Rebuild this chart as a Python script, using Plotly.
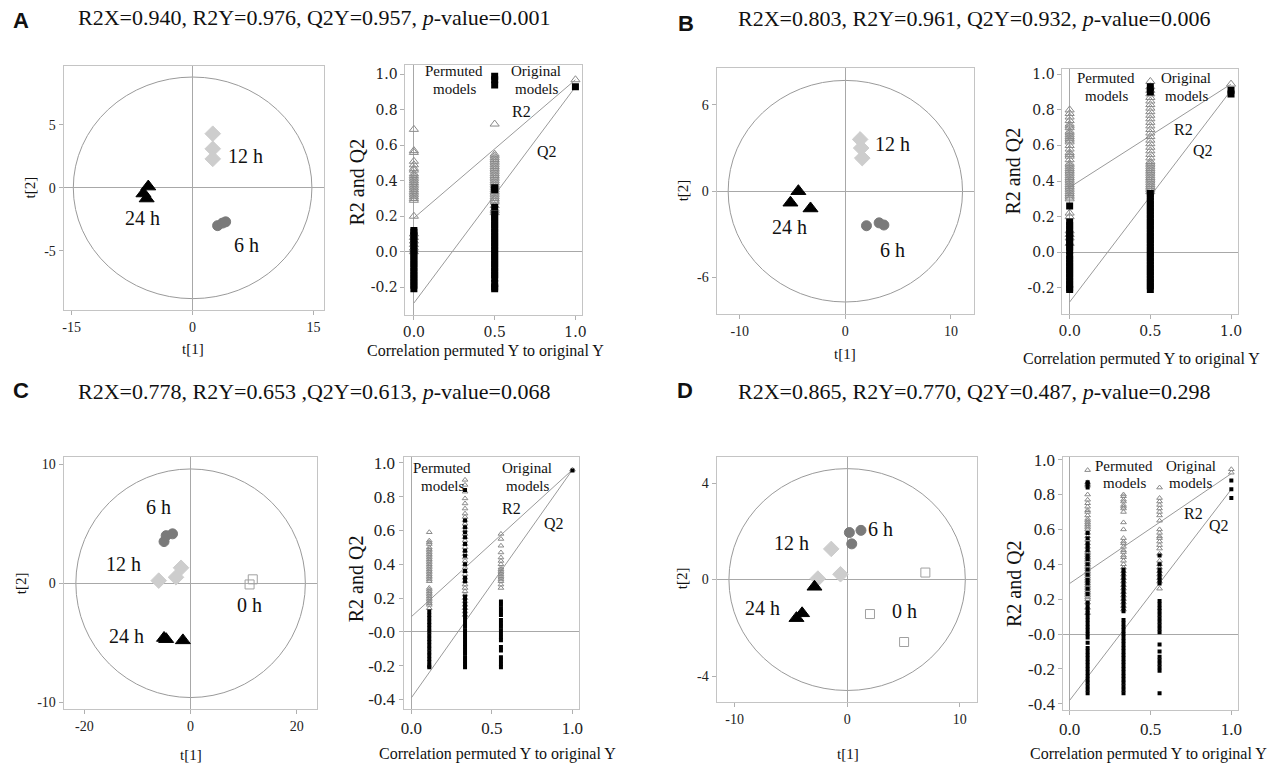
import plotly.graph_objects as go

W, H = 1288, 768
SERIF = "Liberation Serif"

# ---------------- DATA: score plots (t[1], t[2]) ----------------
A_24h_t1 = [-5.5, -6.1, -5.7]; A_24h_t2 = [0.1, -0.45, -0.85]
A_12h_t1 = [2.5, 2.5, 2.5];    A_12h_t2 = [4.3, 3.1, 2.3]
A_6h_t1 = [3.1, 3.7, 4.1];     A_6h_t2 = [-3.0, -2.8, -2.7]

B_24h_t1 = [-4.45, -5.2, -3.3]; B_24h_t2 = [0.0, -0.8, -1.2]
B_12h_t1 = [1.4, 1.5, 1.6];     B_12h_t2 = [3.6, 3.0, 2.3]
B_6h_t1 = [2.0, 3.2, 3.65];     B_6h_t2 = [-2.4, -2.2, -2.35]

C_0h_t1 = [11.1, 11.7];          C_0h_t2 = [-0.1, 0.33]
C_6h_t1 = [-5.0, -4.6, -3.4];    C_6h_t2 = [3.5, 4.0, 4.15]
C_12h_t1 = [-6.0, -2.75, -1.8];  C_12h_t2 = [0.22, 0.5, 1.3]
C_24h_t1 = [-5.0, -4.6, -1.45];  C_24h_t2 = [-4.6, -4.7, -4.8]

D_0h_t1 = [6.95, 2.03, 5.06];    D_0h_t2 = [0.29, -1.43, -2.59]
D_6h_t1 = [0.2, 1.23, 0.41];     D_6h_t2 = [1.95, 2.04, 1.48]
D_12h_t1 = [-1.41, -2.6, -0.59]; D_12h_t2 = [1.27, 0.04, 0.22]
D_24h_t1 = [-2.9, -4.0, -4.5];   D_24h_t2 = [-0.3, -1.4, -1.6]

# Hotelling ellipse semi-axes (t[1], t[2])
A_ellipse = [14.8, 8.8]
B_ellipse = [11.1, 7.7]
C_ellipse = [21.6, 9.6]
D_ellipse = [10.5, 4.6]

# ---------------- DATA: permutation tests ----------------
A_cols = [0.0, 0.5, 1.0]
A_r2 = [
    [0.69, 0.57, 0.56, 0.51, 0.49, 0.47, 0.46, 0.44, 0.43, 0.42, 0.41, 0.40, 0.39, 0.38,
     0.37, 0.36, 0.35, 0.34, 0.33, 0.32, 0.31, 0.30, 0.29, 0.20, 0.10, 0.08, 0.06, 0.04, 0.02, 0.0],
    [0.72, 0.55, 0.54, 0.53, 0.52, 0.51, 0.50, 0.49, 0.48, 0.47, 0.46, 0.45, 0.44, 0.43, 0.42,
     0.41, 0.40, 0.39, 0.38, 0.37, 0.36, 0.35, 0.34, 0.33, 0.32, 0.31, 0.30, 0.29, 0.28, 0.26,
     0.24, 0.23, 0.22],
    [0.97],
]
A_q2 = [
    [0.12, 0.11, 0.09, 0.07, 0.05, 0.03, 0.01, -0.01, -0.03, -0.05, -0.07, -0.09, -0.11,
     -0.13, -0.15, -0.17, -0.19, -0.21],
    [0.99, 0.97, 0.94, 0.36, 0.35, 0.25, 0.21, 0.19, 0.17, 0.15, 0.13, 0.11, 0.09, 0.07, 0.05,
     0.03, 0.01, -0.01, -0.03, -0.05, -0.07, -0.09, -0.11, -0.13, -0.15, -0.18, -0.20, -0.21],
    [0.93],
]
A_r2_line = [0.19, 0.97]
A_q2_line = [-0.29, 0.93]

B_cols = [0.0, 0.5, 1.0]
B_r2 = [
    [0.80, 0.78, 0.76, 0.74, 0.72, 0.71, 0.70, 0.68, 0.67, 0.66, 0.65, 0.64, 0.63, 0.62, 0.60,
     0.58, 0.56, 0.55, 0.54, 0.52, 0.50, 0.49, 0.48, 0.47, 0.46, 0.45, 0.44, 0.43, 0.42, 0.41,
     0.40, 0.39, 0.38, 0.37, 0.36, 0.35, 0.34, 0.33, 0.32, 0.31, 0.30, 0.22, 0.20, 0.12, 0.10,
     0.08, 0.05],
    [0.96, 0.93, 0.91, 0.89, 0.87, 0.85, 0.83, 0.81, 0.79, 0.77, 0.75, 0.73, 0.71, 0.69, 0.67,
     0.65, 0.63, 0.61, 0.59, 0.57, 0.55, 0.53, 0.51, 0.50, 0.49, 0.48, 0.47, 0.46, 0.45, 0.44,
     0.43, 0.42, 0.41, 0.40, 0.39, 0.38, 0.37, 0.36, 0.35, 0.34],
    [0.945],
]
B_q2 = [
    [0.26, 0.17, 0.15, 0.13, 0.11, 0.09, 0.07, 0.05, 0.03, 0.01, -0.02, -0.04, -0.06, -0.08,
     -0.10, -0.12, -0.14, -0.16, -0.18, -0.20, -0.21],
    [0.93, 0.90, 0.33, 0.31, 0.29, 0.27, 0.25, 0.23, 0.21, 0.19, 0.17, 0.15, 0.13, 0.11, 0.09,
     0.07, 0.05, 0.03, 0.01, -0.01, -0.03, -0.05, -0.07, -0.09, -0.11, -0.13, -0.15, -0.17,
     -0.19, -0.21],
    [0.91, 0.89],
]
B_r2_line = [0.365, 0.945]
B_q2_line = [-0.28, 0.91]

C_cols = [0.111, 0.333, 0.556, 1.0]
C_r2 = [
    [0.59, 0.54, 0.53, 0.52, 0.50, 0.49, 0.48, 0.47, 0.46, 0.45, 0.44, 0.43, 0.42, 0.41, 0.40,
     0.39, 0.38, 0.37, 0.36, 0.35, 0.34, 0.33, 0.32, 0.31, 0.30, 0.26, 0.25, 0.24, 0.23, 0.22,
     0.21, 0.20, 0.19, 0.18, 0.17, 0.16, 0.14],
    [0.90, 0.87, 0.83, 0.79, 0.76, 0.73, 0.70, 0.68, 0.66, 0.64, 0.62, 0.60, 0.58, 0.56, 0.54,
     0.52, 0.50, 0.48, 0.46, 0.44, 0.42, 0.40, 0.38, 0.36, 0.34, 0.32, 0.30, 0.28, 0.26, 0.24,
     0.22, 0.20, 0.18, 0.16, 0.14, 0.12, 0.10],
    [0.58, 0.55, 0.51, 0.47, 0.44, 0.42, 0.40, 0.38, 0.37, 0.36, 0.35, 0.34, 0.33, 0.32, 0.31,
     0.30, 0.28, 0.26],
    [0.96],
]
C_q2 = [
    [0.12, 0.10, 0.08, 0.06, 0.04, 0.02, 0.0, -0.02, -0.04, -0.06, -0.08, -0.10, -0.12, -0.14,
     -0.16, -0.18, -0.20, -0.21],
    [0.84, 0.66, 0.62, 0.59, 0.56, 0.52, 0.48, 0.45, 0.40, 0.36, 0.32, 0.30, 0.21, 0.19, 0.17,
     0.15, 0.13, 0.11, 0.09, 0.07, 0.05, 0.03, 0.01, -0.01, -0.03, -0.05, -0.07, -0.09, -0.11,
     -0.13, -0.15, -0.17, -0.19, -0.21],
    [0.18, 0.16, 0.14, 0.12, 0.10, 0.07, 0.05, 0.03, 0.01, -0.01, -0.03, -0.05, -0.09, -0.11,
     -0.15, -0.17, -0.19, -0.21],
    [0.955],
]
C_r2_line = [0.09, 0.96]
C_q2_line = [-0.39, 0.96]

D_cols = [0.111, 0.333, 0.556, 1.0]
D_r2 = [
    [0.94, 0.87, 0.86, 0.85, 0.80, 0.77, 0.75, 0.73, 0.71, 0.70, 0.68, 0.66, 0.65, 0.64, 0.63,
     0.62, 0.61, 0.60, 0.58, 0.56, 0.54, 0.52, 0.50, 0.48, 0.47, 0.46, 0.45, 0.44, 0.43, 0.42,
     0.41, 0.40, 0.39, 0.38, 0.37, 0.36, 0.35, 0.34, 0.33, 0.32, 0.31, 0.30, 0.29, 0.28, 0.27,
     0.26, 0.25, 0.24, 0.23, 0.22, 0.21, 0.20, 0.18, 0.15, 0.12],
    [0.80, 0.79, 0.77, 0.76, 0.74, 0.73, 0.72, 0.70, 0.64, 0.60, 0.55, 0.53, 0.52, 0.50, 0.48,
     0.47, 0.45, 0.44, 0.42, 0.40, 0.38, 0.36, 0.34, 0.32, 0.30, 0.28, 0.26, 0.24, 0.22, 0.20,
     0.18, 0.16, 0.14],
    [0.84, 0.78, 0.76, 0.74, 0.72, 0.70, 0.68, 0.65, 0.60, 0.58, 0.56, 0.55, 0.53, 0.51, 0.49,
     0.46, 0.42, 0.40, 0.38, 0.36, 0.34, 0.32, 0.30, 0.26],
    [0.945, 0.925],
]
D_q2 = [
    [0.87, 0.86, 0.84, 0.58, 0.55, 0.52, 0.50, 0.48, 0.45, 0.43, 0.40, 0.37, 0.34, 0.31, 0.29,
     0.26, 0.23, 0.18, 0.16, 0.14, 0.12, 0.10, 0.08, 0.06, 0.04, 0.02, 0.0, -0.02, -0.05,
     -0.08, -0.10, -0.12, -0.14, -0.16, -0.18, -0.20, -0.22, -0.24, -0.26, -0.28, -0.30,
     -0.32, -0.34],
    [0.37, 0.35, 0.33, 0.31, 0.29, 0.27, 0.25, 0.23, 0.21, 0.19, 0.17, 0.15, 0.13, 0.08, 0.06,
     0.04, 0.02, 0.0, -0.02, -0.04, -0.06, -0.08, -0.10, -0.12, -0.14, -0.16, -0.18, -0.20,
     -0.22, -0.24, -0.26, -0.28, -0.30, -0.32, -0.34],
    [0.45, 0.40, 0.37, 0.35, 0.33, 0.31, 0.29, 0.19, 0.17, 0.15, 0.13, 0.11, 0.09, 0.07, 0.05,
     0.03, 0.01, -0.06, -0.10, -0.13, -0.15, -0.17, -0.19, -0.21, -0.34],
    [0.88, 0.83, 0.78],
]
D_r2_line = [0.29, 0.92]
D_q2_line = [-0.38, 0.83]

LINE_X = [0.0, 1.0]

# ---------------- text ----------------
titles = {
    "A": "R2X=0.940, R2Y=0.976, Q2Y=0.957, <i>p</i>-value=0.001",
    "B": "R2X=0.803, R2Y=0.961, Q2Y=0.932, <i>p</i>-value=0.006",
    "C": "R2X=0.778, R2Y=0.653 ,Q2Y=0.613, <i>p</i>-value=0.068",
    "D": "R2X=0.865, R2Y=0.770, Q2Y=0.487, <i>p</i>-value=0.298",
}

# ---------------- layout geometry (pixels) ----------------
BOX = {
    1: (60, 322, 61, 308), 2: (404, 582, 60, 313),
    3: (717, 976, 63, 312), 4: (1065, 1242, 64, 312),
    5: (60, 315, 457, 712), 6: (402, 579, 457, 712),
    7: (717, 979, 457, 705), 8: (1066, 1242, 457, 713),
}

fig = go.Figure()
annotations = []
shapes = []


def px(x, y):
    return x / W, 1 - y / H


def add_text(x, y, text, size, family=SERIF, angle=0, bold=False, xanchor="center"):
    xx, yy = px(x, y)
    annotations.append(dict(
        x=xx, y=yy, xref="paper", yref="paper", text=("<b>%s</b>" % text) if bold else text,
        showarrow=False, xanchor=xanchor, yanchor="middle", textangle=angle,
        font=dict(family=family, size=size, color="#111")))


def axis_common(rng, tickvals, ticktext, dom, anchor, font):
    return dict(domain=dom, range=rng, anchor=anchor, tickmode="array", tickvals=tickvals,
                ticktext=ticktext, showgrid=False, zeroline=True, zerolinecolor="#a8a8a8",
                zerolinewidth=1, showline=True, mirror=True, linecolor="#c4c4c4", linewidth=1,
                ticks="outside", ticklen=4, tickcolor="#b0b0b0", tickfont=font,
                fixedrange=True)


layout_axes = {}


def set_axes(n, xr, yr, xt, xtt, yt, ytt, font):
    l, r, t, b = BOX[n]
    xd = [l / W, r / W]
    yd = [1 - b / H, 1 - t / H]
    xk = "xaxis" if n == 1 else "xaxis%d" % n
    yk = "yaxis" if n == 1 else "yaxis%d" % n
    ya = "y" if n == 1 else "y%d" % n
    xa = "x" if n == 1 else "x%d" % n
    layout_axes[xk] = axis_common(xr, xt, xtt, xd, ya, font)
    layout_axes[yk] = axis_common(yr, yt, ytt, yd, xa, font)


def refs(n):
    return ("x" if n == 1 else "x%d" % n), ("y" if n == 1 else "y%d" % n)


score_font = dict(family=SERIF, size=14, color="#222")


def score_panel(n, groups, ellipse, labels):
    xr_, yr_ = refs(n)
    a, b = ellipse
    shapes.append(dict(type="circle", xref=xr_, yref=yr_, x0=-a, x1=a, y0=-b, y1=b,
                       line=dict(color="#9a9a9a", width=1), layer="below"))
    for t1, t2, sym, col, size, lc in groups:
        fig.add_trace(go.Scatter(
            x=t1, y=t2, mode="markers", xaxis=xr_, yaxis=yr_, showlegend=False,
            marker=dict(symbol=sym, color=col, size=size, line=dict(color=lc, width=1))))
    for (lx, ly, txt) in labels:
        annotations.append(dict(x=lx, y=ly, xref=xr_, yref=yr_, text=txt, showarrow=False,
                                font=dict(family=SERIF, size=20, color="#111")))


def perm_panel(n, cols, r2, q2, r2_line, q2_line, tri_size, sq_size, texts):
    xr_, yr_ = refs(n)
    tx, ty = [], []
    for c, vals in zip(cols, r2):
        tx += [c] * len(vals)
        ty += vals
    sx, sy = [], []
    for c, vals in zip(cols, q2):
        sx += [c] * len(vals)
        sy += vals
    fig.add_trace(go.Scatter(x=LINE_X, y=r2_line, mode="lines", xaxis=xr_, yaxis=yr_,
                             showlegend=False, line=dict(color="#9a9a9a", width=1)))
    fig.add_trace(go.Scatter(x=LINE_X, y=q2_line, mode="lines", xaxis=xr_, yaxis=yr_,
                             showlegend=False, line=dict(color="#9a9a9a", width=1)))
    fig.add_trace(go.Scatter(x=tx, y=ty, mode="markers", xaxis=xr_, yaxis=yr_, showlegend=False,
                             marker=dict(symbol="triangle-up-open", size=tri_size,
                                         color="#8a8a8a", line=dict(width=1, color="#8a8a8a"))))
    fig.add_trace(go.Scatter(x=sx, y=sy, mode="markers", xaxis=xr_, yaxis=yr_, showlegend=False,
                             marker=dict(symbol="square", size=sq_size, color="#000000",
                                         line=dict(width=0))))
    for (lx, ly, txt, sz) in texts:
        annotations.append(dict(x=lx, y=ly, xref=xr_, yref=yr_, text=txt, showarrow=False,
                                font=dict(family=SERIF, size=sz, color="#111")))


def perm_texts(pm_x, or_x, top_y, bot_y, r2xy, q2xy):
    return [(pm_x, top_y, "Permuted", 15), (pm_x, bot_y, "models", 15),
            (or_x, top_y, "Original", 15), (or_x, bot_y, "models", 15),
            (r2xy[0], r2xy[1], "R2", 16), (q2xy[0], q2xy[1], "Q2", 16)]


DARK = "#7a7a7a"
LIGHT = "#cdcdcd"

# ---- Panel A ----
set_axes(1, [-16.0, 16.3], [-9.7, 9.66], [-15, 0, 15], ["-15", "0", "15"],
         [-5, 0, 5], ["-5", "0", "5"], score_font)
score_panel(1, [
    (A_12h_t1, A_12h_t2, "diamond", LIGHT, 12, LIGHT),
    (A_6h_t1, A_6h_t2, "circle", DARK, 10, DARK),
    (A_24h_t1, A_24h_t2, "triangle-up", "#000", 13, "#000"),
], A_ellipse, [(6.6, 2.5, "12 h"), (-6.2, -2.4, "24 h"), (6.7, -4.5, "6 h")])

ab_perm_font = dict(family="DejaVu Serif", size=14, color="#222")
set_axes(2, [-0.052, 1.043], [-0.357, 1.052], [0, 0.5, 1.0], ["0.0", "0.5", "1.0"],
         [-0.2, 0, 0.2, 0.4, 0.6, 0.8, 1.0], ["-0.2", "0.0", "0.2", "0.4", "0.6", "0.8", "1.0"],
         ab_perm_font)
perm_panel(2, A_cols, A_r2, A_q2, A_r2_line, A_q2_line, 8, 7,
           perm_texts(0.25, 0.758, 1.017, 0.918, (0.664, 0.79), (0.824, 0.566)))

# ---- Panel B ----
set_axes(3, [-12.2, 12.18], [-8.53, 8.55], [-10, 0, 10], ["-10", "0", "10"],
         [-6, 0, 6], ["-6", "0", "6"], score_font)
score_panel(3, [
    (B_12h_t1, B_12h_t2, "diamond", LIGHT, 12, LIGHT),
    (B_6h_t1, B_6h_t2, "circle", DARK, 10, DARK),
    (B_24h_t1, B_24h_t2, "triangle-up", "#000", 13, "#000"),
], B_ellipse, [(4.5, 3.3, "12 h"), (-5.3, -2.5, "24 h"), (4.5, -4.1, "6 h")])

set_axes(4, [-0.045, 1.045], [-0.347, 1.029], [0, 0.5, 1.0], ["0.0", "0.5", "1.0"],
         [-0.2, 0, 0.2, 0.4, 0.6, 0.8, 1.0], ["-0.2", "0.0", "0.2", "0.4", "0.6", "0.8", "1.0"],
         ab_perm_font)
perm_panel(4, B_cols, B_r2, B_q2, B_r2_line, B_q2_line, 8, 7,
           perm_texts(0.226, 0.723, 0.98, 0.88, (0.707, 0.69), (0.826, 0.57)))

# ---- Panel C ----
set_axes(5, [-23.9, 23.8], [-10.54, 10.6], [-20, 0, 20], ["-20", "0", "20"],
         [-10, 0, 10], ["-10", "0", "10"], score_font)
score_panel(5, [
    (C_0h_t1, C_0h_t2, "square-open", "#a0a0a0", 9, "#a0a0a0"),
    (C_12h_t1, C_12h_t2, "diamond", LIGHT, 12, LIGHT),
    (C_6h_t1, C_6h_t2, "circle", DARK, 10, DARK),
    (C_24h_t1, C_24h_t2, "triangle-up", "#000", 13, "#000"),
], C_ellipse, [(-6.0, 6.4, "6 h"), (-12.6, 1.65, "12 h"), (11.1, -1.8, "0 h"), (-12.0, -4.4, "24 h")])

cd_perm_font = dict(family=SERIF, size=17, color="#222")
set_axes(6, [-0.049, 1.043], [-0.455, 1.035], [0, 0.5, 1.0], ["0.0", "0.5", "1.0"],
         [-0.4, -0.2, 0, 0.2, 0.4, 0.6, 0.8, 1.0],
         ["-0.4", "-0.2", "-0.0", "0.2", "0.4", "0.6", "0.8", "1.0"], cd_perm_font)
perm_panel(6, C_cols, C_r2, C_q2, C_r2_line, C_q2_line, 5, 4,
           perm_texts(0.191, 0.72, 0.973, 0.864, (0.621, 0.728), (0.885, 0.643)))

# ---- Panel D ----
set_axes(7, [-11.6, 11.53], [-5.07, 5.08], [-10, 0, 10], ["-10", "0", "10"],
         [-4, 0, 4], ["-4", "0", "4"], score_font)
score_panel(7, [
    (D_0h_t1, D_0h_t2, "square-open", "#a0a0a0", 9, "#a0a0a0"),
    (D_12h_t1, D_12h_t2, "diamond", LIGHT, 12, LIGHT),
    (D_6h_t1, D_6h_t2, "circle", DARK, 10, DARK),
    (D_24h_t1, D_24h_t2, "triangle-up", "#000", 13, "#000"),
], D_ellipse, [(3.0, 2.1, "6 h"), (-4.95, 1.5, "12 h"), (-7.5, -1.16, "24 h"), (5.1, -1.32, "0 h")])

set_axes(8, [-0.039, 1.043], [-0.434, 1.015], [0, 0.5, 1.0], ["0.0", "0.5", "1.0"],
         [-0.4, -0.2, 0, 0.2, 0.4, 0.6, 0.8, 1.0],
         ["-0.4", "-0.2", "-0.0", "0.2", "0.4", "0.6", "0.8", "1.0"], cd_perm_font)
perm_panel(8, D_cols, D_r2, D_q2, D_r2_line, D_q2_line, 5, 4,
           perm_texts(0.338, 0.75, 0.966, 0.868, (0.765, 0.69), (0.925, 0.62)))

# ---- titles, letters, axis titles ----
add_text(17, 15, "A", 22, family="Liberation Sans", bold=True)
add_text(686, 18, "B", 22, family="Liberation Sans", bold=True)
add_text(17, 390, "C", 22, family="Liberation Sans", bold=True)
add_text(685, 390, "D", 22, family="Liberation Sans", bold=True)
add_text(72, 12, titles["A"], 22, xanchor="left")
add_text(737, 13, titles["B"], 22, xanchor="left")
add_text(72, 391, titles["C"], 22, xanchor="left")
add_text(737, 391, titles["D"], 22, xanchor="left")

CORR = "Correlation permuted Y to original Y"
for (x1, y1, x2, y2) in [(26, 184, 190, 348), (683, 187, 846, 353),
                         (17, 585, 188, 759), (683, 580, 849, 758)]:
    add_text(x1, y1, "t[2]", 15, angle=-90)
    add_text(x2, y2, "t[1]", 15)
for (x1, y1, x2, y2) in [(355, 178, 485, 350), (1015, 167, 1145, 358),
                         (355, 580, 497, 758), (1017, 585, 1152, 758)]:
    add_text(x1, y1, "R2 and Q2", 20, angle=-90)
    add_text(x2, y2, CORR, 16)

fig.update_layout(
    width=W, height=H, margin=dict(l=0, r=0, t=0, b=0),
    paper_bgcolor="white", plot_bgcolor="white", showlegend=False,
    annotations=annotations, shapes=shapes, **layout_axes)

fig.write_html("out.html", post_script="document.body.style.margin='0';",
               config={"displayModeBar": False})
